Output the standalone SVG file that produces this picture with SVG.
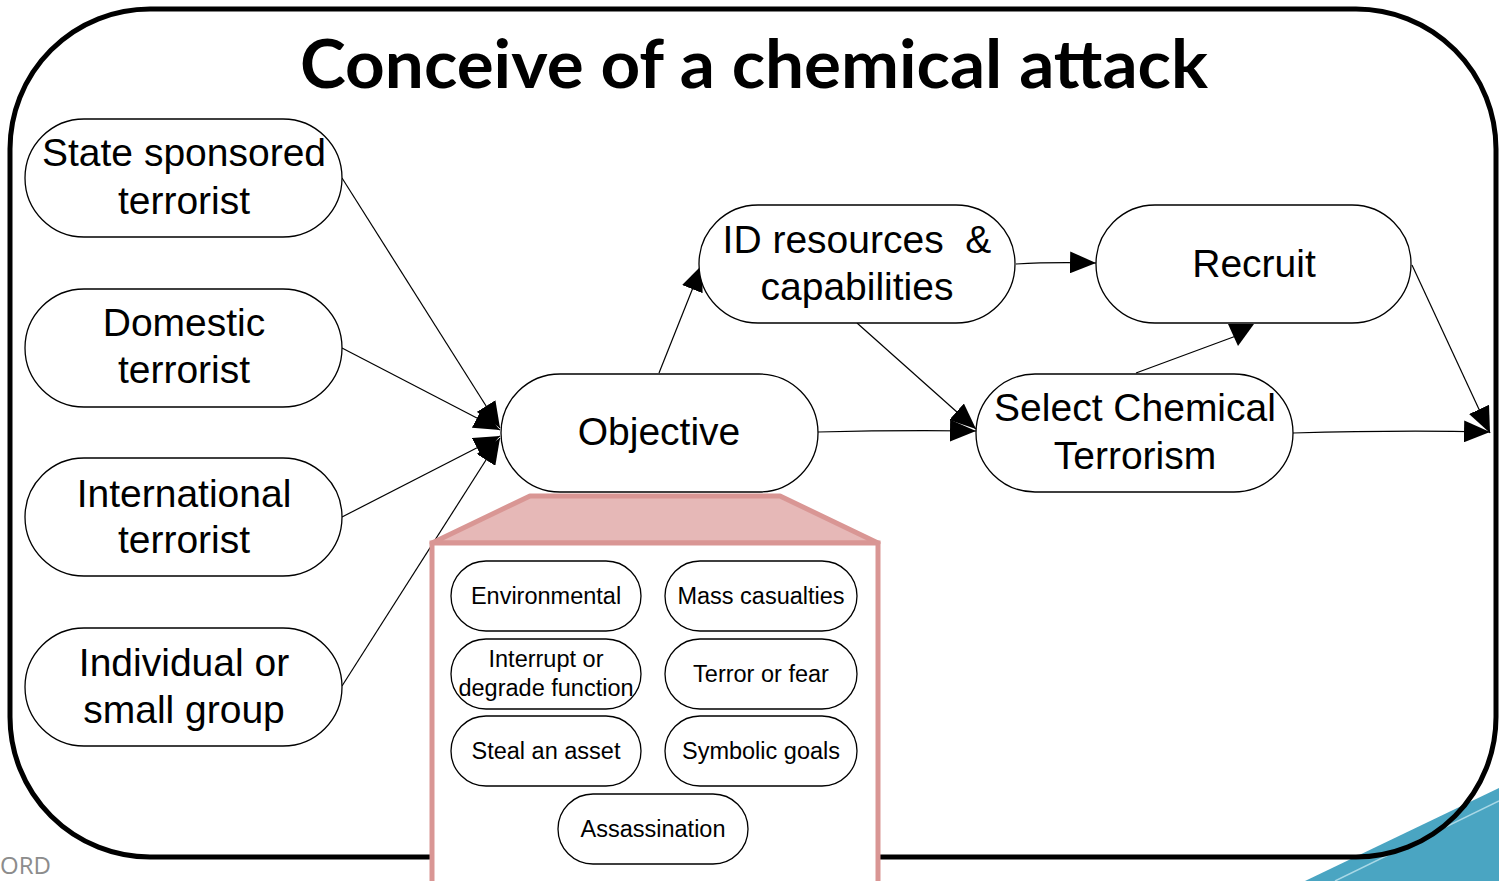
<svg xmlns="http://www.w3.org/2000/svg" width="1499" height="881" viewBox="0 0 1499 881">
<style>
.n{fill:#fff;stroke:#000;stroke-width:1.3}
.t{font-family:"Liberation Sans",Arial,sans-serif;font-size:39px;fill:#000;text-anchor:middle}
.s{font-family:"Liberation Sans",Arial,sans-serif;font-size:23.5px;fill:#000;text-anchor:middle}
.c{fill:none;stroke:#000;stroke-width:1.2}
</style>
<defs>
<marker id="a" viewBox="0 0 26 22" refX="26" refY="11" markerWidth="26" markerHeight="22" markerUnits="userSpaceOnUse" orient="auto">
<path d="M0,0L26,11L0,22Z" fill="#000"/>
</marker>
</defs>
<rect width="1499" height="881" fill="#fff"/>
<polygon points="1305,881 1499,788 1499,881" fill="#4aa5c2"/>
<polyline points="1335,881 1499,801" fill="none" stroke="#a9d8e6" stroke-width="1.5"/>
<text x="0" y="874" font-family="'Open Sans',sans-serif" font-size="24" fill="#8c8c8c">ORD</text>
<rect id="frame" x="10" y="9" width="1486" height="848" rx="140" ry="140" fill="none" stroke="#000" stroke-width="5"/>
<text x="754" y="88" font-family="Lato,'Open Sans',sans-serif" font-weight="bold" font-size="66" textLength="908" lengthAdjust="spacingAndGlyphs" text-anchor="middle">Conceive of a chemical attack</text>
<g id="connectors">
<path class="c" d="M342,178 L500,428" marker-end="url(#a)"/>
<path class="c" d="M342,348 L500,430" marker-end="url(#a)"/>
<path class="c" d="M342,517 L500,436" marker-end="url(#a)"/>
<path class="c" d="M342,686 L500,438" marker-end="url(#a)"/>
<path class="c" d="M659,373 L702,265" marker-end="url(#a)"/>
<path class="c" d="M1016,264 Q1050,262 1096,263" marker-end="url(#a)"/>
<path class="c" d="M857,323 L976,429" marker-end="url(#a)"/>
<path class="c" d="M818,432 Q900,430 976,431" marker-end="url(#a)"/>
<path class="c" d="M1136,373 L1236,336"/>
<polygon points="1228,324 1254,324 1238,346" fill="#000"/>
<path class="c" d="M1412,265 L1490,433" marker-end="url(#a)"/>
<path class="c" d="M1293,433 Q1400,430 1490,432" marker-end="url(#a)"/>
</g>
<g id="n1"><rect class="n" x="25" y="119" width="317" height="118" rx="59"/><text class="t" x="184" y="166">State sponsored</text><text class="t" x="184" y="214">terrorist</text></g>
<g id="n2"><rect class="n" x="25" y="289" width="317" height="118" rx="59"/><text class="t" x="184" y="336">Domestic</text><text class="t" x="184" y="383">terrorist</text></g>
<g id="n3"><rect class="n" x="25" y="458" width="317" height="118" rx="59"/><text class="t" x="184" y="507">International</text><text class="t" x="184" y="553">terrorist</text></g>
<g id="n4"><rect class="n" x="25" y="628" width="317" height="118" rx="59"/><text class="t" x="184" y="676">Individual or</text><text class="t" x="184" y="723">small group</text></g>
<g id="objective"><rect class="n" x="501" y="374" width="317" height="118" rx="59"/><text class="t" x="659" y="445">Objective</text></g>
<g id="idres"><rect class="n" x="699" y="205" width="316" height="118" rx="59"/><text class="t" x="857" y="253" xml:space="preserve">ID resources  &amp;</text><text class="t" x="857" y="300">capabilities</text></g>
<g id="recruit"><rect class="n" x="1096" y="205" width="315" height="118" rx="59"/><text class="t" x="1254" y="277">Recruit</text></g>
<g id="select"><rect class="n" x="976" y="374" width="317" height="118" rx="59"/><text class="t" x="1135" y="421">Select Chemical</text><text class="t" x="1135" y="469">Terrorism</text></g>
<g id="callout">
<polygon points="432,543 530,496 780,496 878,543" fill="#e6b8b7" stroke="#d99694" stroke-width="5" stroke-linejoin="round"/>
<rect x="432" y="543" width="446" height="345" fill="#fff" stroke="#d99694" stroke-width="5"/>
</g>
<g id="o1"><rect class="n" x="451" y="561" width="190" height="70" rx="35"/><text class="s" x="546" y="604">Environmental</text></g>
<g id="o2"><rect class="n" x="665" y="561" width="192" height="70" rx="35"/><text class="s" x="761" y="604">Mass casualties</text></g>
<g id="o3"><rect class="n" x="451" y="639" width="190" height="70" rx="35"/><text class="s" x="546" y="667">Interrupt or</text><text class="s" x="546" y="696">degrade function</text></g>
<g id="o4"><rect class="n" x="665" y="639" width="192" height="70" rx="35"/><text class="s" x="761" y="682">Terror or fear</text></g>
<g id="o5"><rect class="n" x="451" y="716" width="190" height="70" rx="35"/><text class="s" x="546" y="759">Steal an asset</text></g>
<g id="o6"><rect class="n" x="665" y="716" width="192" height="70" rx="35"/><text class="s" x="761" y="759">Symbolic goals</text></g>
<g id="o7"><rect class="n" x="558" y="794" width="190" height="70" rx="35"/><text class="s" x="653" y="837">Assassination</text></g>
</svg>
